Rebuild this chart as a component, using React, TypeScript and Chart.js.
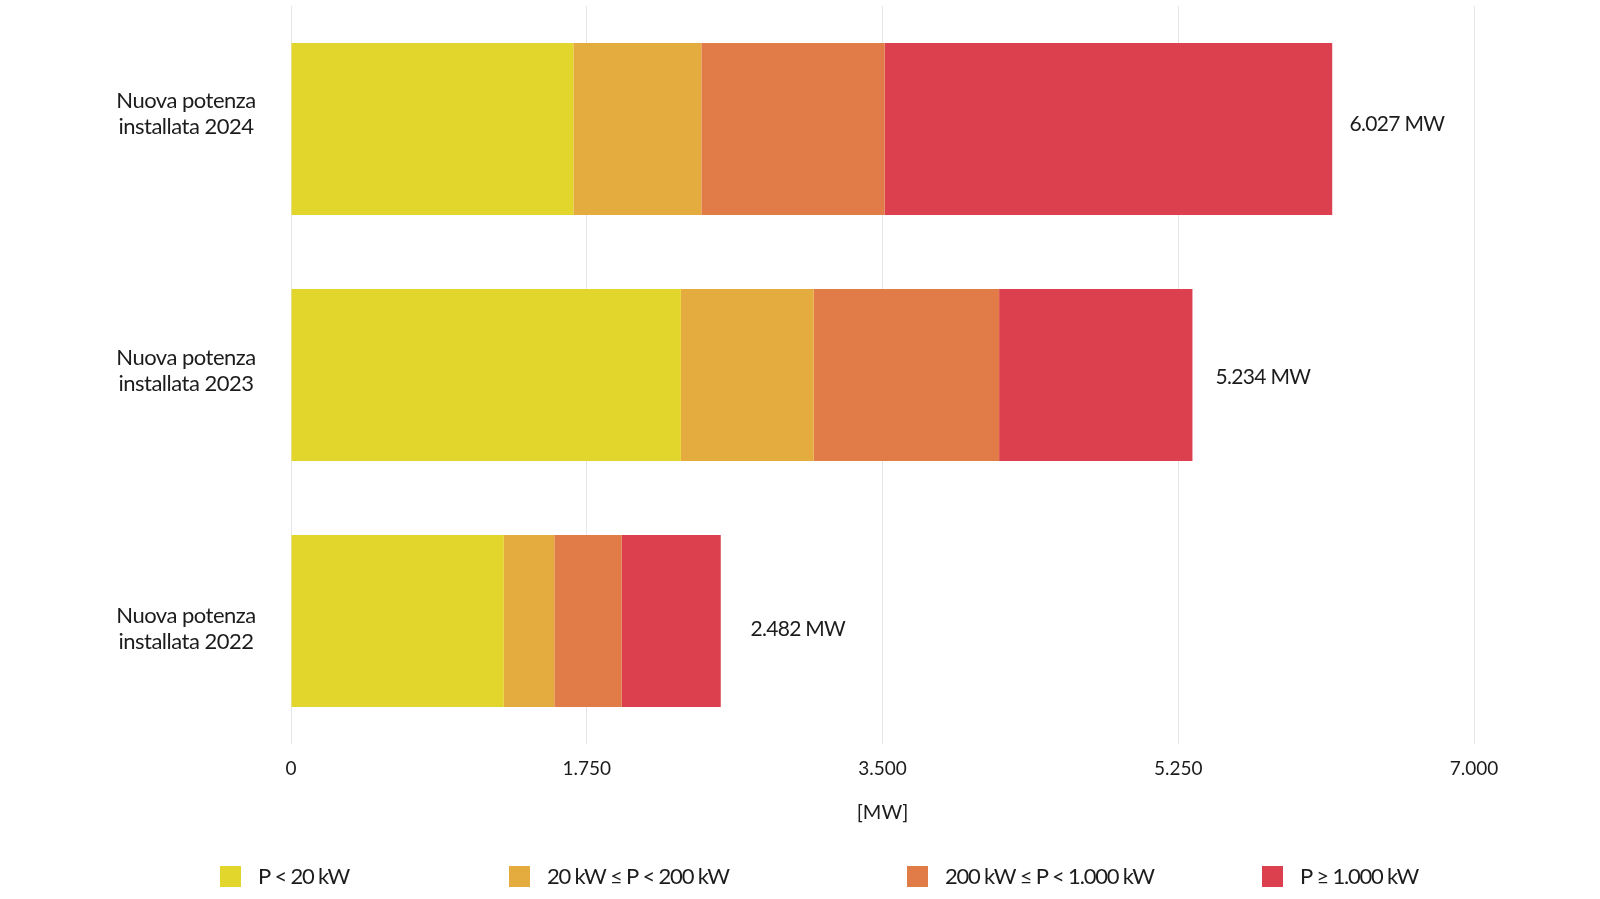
import { useEffect, useRef } from "react";
import { Chart, registerables } from "chart.js";

Chart.register(...registerables);

// ---------- data ----------
const YEARS = ["2024", "2023", "2022"];
const CATEGORY_LABELS = YEARS.map((y) => ["Nuova potenza", "installata " + y]);
const SERIES_NAMES = [
  "P < 20 kW",
  "20 kW ≤ P < 200 kW",
  "200 kW ≤ P < 1.000 kW",
  "P ≥ 1.000 kW",
];
const P_LT_20 = [1671, 2307, 1259];
const P_20_200 = [757, 786, 299];
const P_200_1000 = [1085, 1097, 399];
const P_GE_1000 = [2648, 1144, 586];
const TOTALS_MW = [6027, 5234, 2482];
const X_TICKS = [0, 1750, 3500, 5250, 7000];
const X_TITLE = "[MW]";

// ---------- style ----------
const COLORS = ["#E2D52B", "#E4AB3F", "#E17C48", "#DC404E"];
const TEXT = "#1c1c1c";
const GRID = "#e6e6e6";
const FONT = "Lato";
const LEGEND_X = [220, 509, 907, 1262];
const LEGEND_Y = 876.5;
const LEGEND_BOX = 21;
const Y_AXIS_WIDTH = 291;
const Y_LABEL_CENTER_X = 186;
const Y_LABEL_LINE = 26;
const Y_LABEL_SPREAD = 1.046;
const Y_LABEL_SHIFT = -3.7;
const TOTAL_SPREAD = 1.0256;
const TOTAL_SHIFT = 2;
const TOTAL_GAP = 40;

const fmt = (v: number) =>
  String(Math.round(v)).replace(/\B(?=(\d{3})+(?!\d))/g, ".");

const yLabelsPlugin = {
  id: "yLabels",
  afterDraw(chart: any) {
    const { ctx, scales, chartArea } = chart;
    const mid = (chartArea.top + chartArea.bottom) / 2;
    ctx.save();
    ctx.font = `22px ${FONT}`;
    (ctx as any).letterSpacing = "-0.5px";
    ctx.fillStyle = TEXT;
    ctx.textAlign = "center";
    ctx.textBaseline = "middle";
    CATEGORY_LABELS.forEach((lines, i) => {
      const p = scales.y.getPixelForValue(i);
      const cy = mid + (p - mid) * Y_LABEL_SPREAD + Y_LABEL_SHIFT;
      lines.forEach((line, j) => {
        const y = cy + (j - (lines.length - 1) / 2) * Y_LABEL_LINE;
        ctx.fillText(line, Y_LABEL_CENTER_X, y);
      });
    });
    ctx.restore();
  },
};

const totalsPlugin = {
  id: "totals",
  afterDatasetsDraw(chart: any) {
    const { ctx, scales, chartArea } = chart;
    const mid = (chartArea.top + chartArea.bottom) / 2;
    ctx.save();
    ctx.font = `21px ${FONT}`;
    (ctx as any).letterSpacing = "-0.7px";
    ctx.fillStyle = TEXT;
    ctx.textAlign = "left";
    ctx.textBaseline = "middle";
    TOTALS_MW.forEach((t, i) => {
      const x = scales.x.getPixelForValue(t) + TOTAL_GAP;
      const p = scales.y.getPixelForValue(i);
      const y = mid + (p - mid) * TOTAL_SPREAD + TOTAL_SHIFT;
      ctx.fillText(fmt(t) + " MW", x, y);
    });
    ctx.restore();
  },
};

const legendPlugin = {
  id: "customLegend",
  afterDraw(chart: any) {
    const { ctx } = chart;
    ctx.save();
    ctx.font = `22px ${FONT}`;
    (ctx as any).letterSpacing = "-1.2px";
    ctx.textAlign = "left";
    ctx.textBaseline = "middle";
    chart.data.datasets.forEach((ds: any, i: number) => {
      const x = LEGEND_X[i];
      ctx.fillStyle = ds.backgroundColor;
      ctx.fillRect(x, LEGEND_Y - LEGEND_BOX / 2, LEGEND_BOX, LEGEND_BOX);
      ctx.fillStyle = TEXT;
      ctx.fillText(ds.label, x + LEGEND_BOX + 17, LEGEND_Y);
    });
    ctx.restore();
  },
};

export default function App() {
  const ref = useRef<HTMLCanvasElement | null>(null);

  useEffect(() => {
    let chart: Chart | null = null;
    let cancelled = false;
    const make = () => {
      if (cancelled || !ref.current) return;
      Chart.defaults.font.family = FONT;
      Chart.defaults.color = TEXT;
      const series = [P_LT_20, P_20_200, P_200_1000, P_GE_1000];
      chart = new Chart(ref.current, {
        type: "bar",
        data: {
          labels: YEARS,
          datasets: series.map((d, i) => ({
            label: SERIES_NAMES[i],
            data: d,
            backgroundColor: COLORS[i],
            borderWidth: 0,
            barPercentage: 0.7,
            categoryPercentage: 1,
          })),
        },
        options: {
          indexAxis: "y",
          animation: false,
          responsive: true,
          maintainAspectRatio: false,
          layout: { padding: { top: 6, right: 126, bottom: 74, left: 0 } },
          plugins: {
            legend: { display: false },
            tooltip: { enabled: false },
          },
          scales: {
            x: {
              type: "linear",
              stacked: true,
              min: 0,
              max: 7000,
              afterBuildTicks: (s: any) => {
                s.ticks = X_TICKS.map((v) => ({ value: v }));
              },
              afterFit: (s: any) => {
                s.height = 81;
              },
              grid: { color: GRID, lineWidth: 1, drawTicks: false },
              border: { display: false },
              ticks: {
                padding: 13,
                maxRotation: 0,
                font: { size: 19 },
                color: TEXT,
                callback: (v: any) => fmt(Number(v)),
              },
              title: {
                display: true,
                text: X_TITLE,
                font: { size: 20 },
                color: TEXT,
                padding: { top: 21, bottom: 0 },
              },
            },
            y: {
              type: "category",
              stacked: true,
              position: "left",
              afterFit: (s: any) => {
                s.width = Y_AXIS_WIDTH;
                s.paddingTop = 0;
                s.paddingBottom = 0;
              },
              grid: { display: false, drawTicks: false },
              border: { display: false },
              ticks: { display: false },
            },
          },
        } as any,
        plugins: [totalsPlugin, legendPlugin, yLabelsPlugin],
      });
    };
    const fontsReady = (document as any).fonts
      ? Promise.all([
          (document as any).fonts.load(`22px ${FONT}`),
          (document as any).fonts.load(`19px ${FONT}`),
        ]).catch(() => null)
      : Promise.resolve(null);
    fontsReady.then(make);
    return () => {
      cancelled = true;
      if (chart) chart.destroy();
    };
  }, []);

  return (
    <div
      style={{
        position: "absolute",
        left: 0,
        top: 0,
        width: 1600,
        height: 899,
        background: "#ffffff",
      }}
    >
      <canvas ref={ref} />
    </div>
  );
}
